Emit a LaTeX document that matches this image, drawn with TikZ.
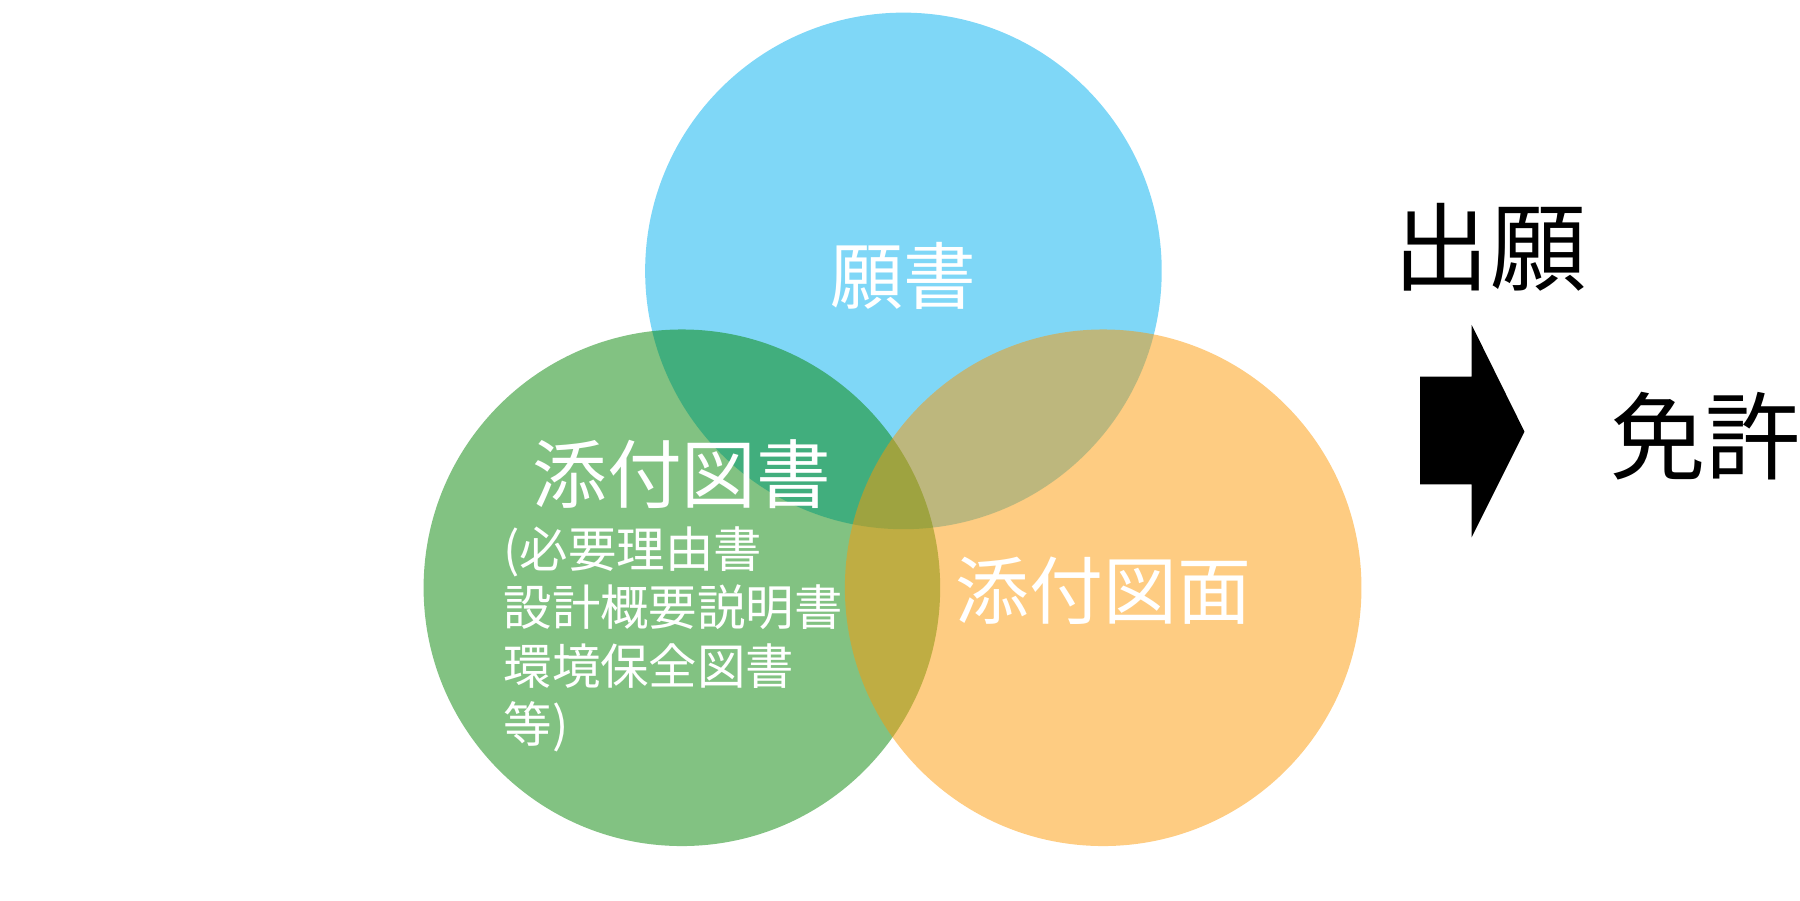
\documentclass[tikz,border=0pt]{standalone}
\usepackage{fontspec}
\newfontfamily\jfont{Noto Sans CJK JP}
\definecolor{gansho}{RGB}{0,176,240}
\definecolor{tosho}{RGB}{5,133,5}
\definecolor{zumen}{RGB}{253,153,5}

\begin{document}
\begin{tikzpicture}[x=0.01cm,y=-0.01cm,
		venn/.style={fill opacity=.5},
		label/.style={text=white,font=\jfont\fontsize{#1}{#1}\selectfont,inner sep=0pt},
		label/.default={18pt}]
			\useasboundingbox (0,0) rectangle (1568,784);
			% circles
			\fill[gansho,venn] (787,236) circle (225);
			\fill[tosho,venn] (594,512) circle (225);
			\fill[zumen,venn] (961,512) circle (225);
			
			\node[label] (gansho) at (787,240) {願書};
			\node[label=18.5pt] (tosho) at (594,413) {添付図書};
			\node[label=12pt,anchor=north west,align=left,
				font=\jfont\fontsize{12pt}{14.5pt}\selectfont] (toshosub) at (438,458)
				{(必要理由書\\設計概要説明書\\環境保全図書\\等)};
			\node[label=18.3pt] (zumen) at (961,515) {添付図面};
			
			\node[label=23.8pt,text=black] (shutsugan) at (1298,215) {出願};
			\node[label=23.6pt,text=black] (menkyo) at (1486,380) {免許};
			
			% arrow
			\fill (1237,328) -- (1282,328) -- (1282,283) -- (1328,376)
				-- (1282,468) -- (1282,422) -- (1237,422) -- cycle;
		\end{tikzpicture}
\end{document}
